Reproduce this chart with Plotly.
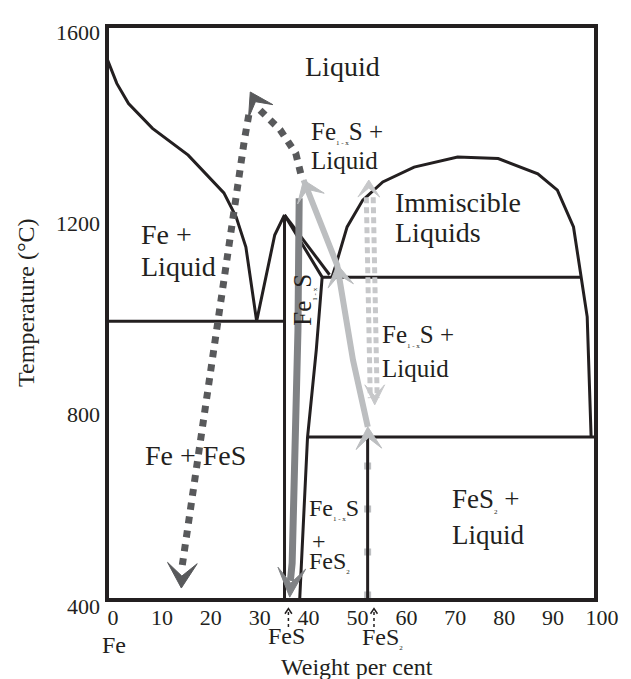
import math
import plotly.graph_objects as go

# page body has an 8px margin: the figure is offset by (8, 8)
W, H = 623, 671
ML, MR, MT, MB = 99, 29, 18, 79
PW, PH = W - ML - MR, H - MT - MB
XR = [0, 100]
YR = [400, 1600]
KX = PW / (XR[1] - XR[0])
KY = PH / (YR[1] - YR[0])

INK = "#231f20"
DARK = "#58595b"
MID = "#808285"
LIGHT = "#bcbec0"
LIGHT_DOT = "#c7c8ca"
SERIF = "Liberation Serif, Tinos, Times New Roman, Times, DejaVu Serif, serif"

# ---------------- axis ticks ----------------
x_tick_vals = [0, 10, 20, 30, 40, 50, 60, 70, 80, 90, 100]
x_tick_text = ["0", "10", "20", "30", "40", "50", "60", "70", "80", "90", "100"]
y_tick_vals = [400, 800, 1200, 1600]
y_tick_text = ["400", "800", "1200", "1600"]

# ---------------- compositions (wt% S) ----------------
FES_WT = 36.3
FES2_WT = 53.3

# ---------------- phase boundaries (wt% S, deg C) ----------------
fe_liquidus_x = [0.0, 2.0, 4.4, 9.3, 16.6, 23.9, 26.4, 28.4, 30.6]
fe_liquidus_t = [1532, 1480, 1438, 1386, 1330, 1251, 1201, 1138, 983]

po_liq_fe_x = [30.6, 34.3, 36.3]
po_liq_fe_t = [983, 1163, 1205]

po_liq_s_x = [36.3, 45.5]
po_liq_s_t = [1205, 1080]

po_sol_x = [36.3, 44.0, 42.8, 41.0, 39.4]
po_sol_t = [1205, 1075, 923, 739, 400]

dome_x = [46.0, 46.7, 49.1, 52.3, 56.4, 62.8, 71.7, 80.0, 88.1, 92.1, 95.4, 97.0, 98.2, 99.0]
dome_t = [1075, 1097, 1180, 1236, 1274, 1305, 1326, 1323, 1291, 1257, 1180, 1075, 992, 741]

eutectic_x = [0.0, FES_WT]
eutectic_t = [983, 983]
monotectic_x = [44.0, 97.0]
monotectic_t = [1075, 1075]
low_x = [41.0, 100.0]
low_t = [741, 741]
fes_line_x = [FES_WT, FES_WT]
fes_line_t = [1205, 400]
fes2_line_x = [FES2_WT, FES2_WT]
fes2_line_t = [741, 400]

# ---------------- illustrative paths ----------------
dark_up_x = [15.4, 17.4, 19.0, 20.8, 22.6, 25.1, 26.9, 28.1, 29.1]
dark_up_t = [473, 615, 734, 860, 964, 1167, 1278, 1362, 1420]
dark_down_x = [31.3, 35.4, 38.6, 39.8]
dark_down_t = [1424, 1383, 1334, 1284]
dark_bottom_tip = (15.2, 425)
dark_apex_tip = (29.3, 1462)

mid_x = [39.3, 39.05, 37.86, 37.5]
mid_t = [1240, 964, 477, 440]
mid_tip = (37.37, 406)

light_x = [40.2, 47.07, 50.3, 51.9, 53.33]
light_t = [1278, 1100, 902, 824, 762]

ldot_a_x = [53.03, 53.84]
ldot_b_x = [54.44, 55.25]
ldot_t = [1242, 822]
ldot_top_tip = (53.54, 1278)
ldot_bottom_tip = (54.75, 808)

sq_x = [FES2_WT, FES2_WT]
sq_t = [403, 741]

marker_wt = [37.1, 54.6]   # FeS, FeS2 markers under the axis

fig = go.Figure()


def line(x, y, color=INK, width=3, dash="solid"):
    fig.add_trace(go.Scatter(x=x, y=y, mode="lines", hoverinfo="skip",
                             line=dict(color=color, width=width, dash=dash)))


def chevron(tip, back, color, width, length, notch):
    vx = (tip[0] - back[0]) * KX
    vy = (tip[1] - back[1]) * KY
    n = math.hypot(vx, vy)
    ux, uy = vx / n, vy / n
    nx, ny = -uy, ux
    pts = [(0, 0),
           (-ux * length + nx * width / 2, -uy * length + ny * width / 2),
           (-ux * notch, -uy * notch),
           (-ux * length - nx * width / 2, -uy * length - ny * width / 2),
           (0, 0)]
    xs = [tip[0] + a / KX for a, b in pts]
    ys = [tip[1] + b / KY for a, b in pts]
    fig.add_trace(go.Scatter(x=xs, y=ys, mode="lines", fill="toself", fillcolor=color,
                             hoverinfo="skip", line=dict(color=color, width=1)))


# light squares behind the FeS2 line
line(sq_x, sq_t, LIGHT, 7, "7px,36px")

# phase boundaries
for xs, ts in [(fe_liquidus_x, fe_liquidus_t), (po_liq_fe_x, po_liq_fe_t),
               (po_liq_s_x, po_liq_s_t), (po_sol_x, po_sol_t), (dome_x, dome_t),
               (eutectic_x, eutectic_t), (monotectic_x, monotectic_t),
               (low_x, low_t), (fes_line_x, fes_line_t), (fes2_line_x, fes2_line_t)]:
    line(xs, ts)

# arrows
line(dark_up_x, dark_up_t, DARK, 7, "dot")
line(dark_down_x, dark_down_t, DARK, 7, "dot")
line(mid_x, mid_t, MID, 7)
line(light_x, light_t, LIGHT, 6)
line(ldot_a_x, ldot_t, LIGHT_DOT, 5, "6px,4px")
line(ldot_b_x, ldot_t, LIGHT_DOT, 5, "6px,4px")

chevron(dark_bottom_tip, (dark_up_x[0], dark_up_t[0]), DARK, 30, 25, 12)
chevron(dark_apex_tip, (dark_down_x[0], dark_down_t[0]), DARK, 28, 22, 11)
chevron(mid_tip, (mid_x[2], mid_t[2]), MID, 28, 29, 14)
chevron((light_x[0], light_t[0]), (light_x[1], light_t[1]), LIGHT, 29, 20, 10)
chevron((light_x[1], light_t[1] + 2), (light_x[2], light_t[2]), LIGHT, 26, 22, 11)
chevron((light_x[-1], light_t[-1]), (light_x[-1] + 0.3, light_t[-1] - 60), LIGHT, 26, 22, 11)
chevron(ldot_top_tip, (ldot_top_tip[0], ldot_top_tip[1] - 80), LIGHT_DOT, 22, 17, 8)
chevron(ldot_bottom_tip, (ldot_bottom_tip[0], ldot_bottom_tip[1] + 80), LIGHT_DOT, 20, 20, 9)

ann = []
SUB = '<sub><span style="font-size:7px">{}</span></sub>'
FE1X = "Fe" + SUB.format("1 - x") + "S"
FES2 = "FeS" + SUB.format("2")


def txt(s, x, y, size=27, xanchor="left", xref="x", yref="y", angle=0):
    ann.append(dict(text=s, x=x, y=y, xref=xref, yref=yref, xanchor=xanchor,
                    yanchor="middle", showarrow=False, textangle=angle,
                    font=dict(family=SERIF, size=size, color=INK)))


txt("Liquid", 48.1, 1516, 28, "center")
txt(FE1X + " +", 41.4, 1378, 25)
txt("Liquid", 41.4, 1318, 25)
txt("Immiscible", 58.4, 1232, 28)
txt("Liquids", 58.4, 1169, 28)
txt("Fe +", 6.5, 1165, 28)
txt("Liquid", 6.5, 1098, 28)
txt(FE1X + " +", 55.8, 952, 25)
txt("Liquid", 55.8, 885, 25)
txt("Fe + FeS", 7.3, 703, 28)
txt(FE1X, 41.0, 590, 24)
txt("+", 43.4, 523, 24, "center")
txt(FES2, 41.0, 479, 24)
txt(FES2 + " +", 70.1, 609, 27)
txt("Liquid", 70.1, 536, 27)
txt(FE1X, 40.2, 1027, 25, "center", angle=-90)

# labels under the axis
txt("Fe", 1.4, -0.078, 24, "center", yref="paper")
txt("FeS", 36.8, -0.063, 24, "center", yref="paper")
txt(FES2, 51.7, -0.067, 24, "left", yref="paper")
txt("S", 100.2, -0.063, 24, "center", yref="paper")
txt("Weight per cent", 51.1, -0.117, 24, "center", yref="paper")
ann.append(dict(text="Temperature (°C)", x=-0.166, y=0.519, xref="paper", yref="paper",
                showarrow=False, textangle=-90, xanchor="center", yanchor="middle",
                font=dict(family=SERIF, size=24, color=INK)))

shapes = [dict(type="rect", xref="paper", yref="paper", x0=0, x1=1, y0=0, y1=1,
               line=dict(color=INK, width=4), layer="above")]
# small dotted arrows marking FeS and FeS2 under the axis
hw = 3.5 / KX
for xv in marker_wt:
    shapes.append(dict(type="line", xref="x", yref="paper", x0=xv, x1=xv,
                       y0=-0.047, y1=-0.018, line=dict(color=INK, width=1.5, dash="dot")))
    shapes.append(dict(type="path", xref="x", yref="paper",
                       path=f"M {xv - hw},-0.024 L {xv},-0.015 L {xv + hw},-0.024",
                       line=dict(color=INK, width=1.5)))

fig.update_layout(
    width=W, height=H, margin=dict(l=ML, r=MR, t=MT, b=MB, pad=0),
    paper_bgcolor="white", plot_bgcolor="white", showlegend=False,
    annotations=ann, shapes=shapes,
    font=dict(family=SERIF, color=INK),
    xaxis=dict(range=XR, showgrid=False, zeroline=False, showline=False,
               tickmode="array", tickvals=x_tick_vals, ticktext=x_tick_text, ticks="",
               tickfont=dict(family=SERIF, size=22, color=INK),
               ticklabelshift=6, ticklabelstandoff=2),
    yaxis=dict(range=YR, showgrid=False, zeroline=False, showline=False,
               tickmode="array", tickvals=y_tick_vals, ticktext=y_tick_text, ticks="",
               tickfont=dict(family=SERIF, size=22, color=INK),
               ticklabelshift=6, ticklabelstandoff=6),
)

fig.write_html("out.html")
